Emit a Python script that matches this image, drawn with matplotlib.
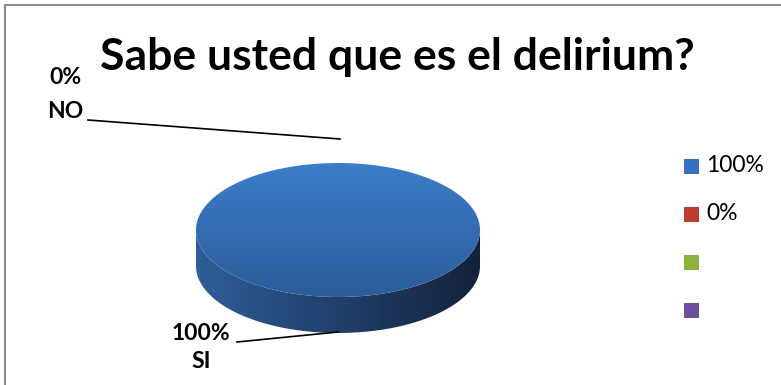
import numpy as np
import matplotlib.pyplot as plt
from matplotlib.patches import Polygon, Rectangle
from matplotlib.lines import Line2D

# data
categories = ['SI', 'NO']
values = [100, 0]
legend_labels = ['100%', '0%', '', '']
legend_colors = ['#3572c0', '#c0392f', '#8cb43c', '#6f4f9c']
title = 'Sabe usted que es el delirium?'

W, H = 781, 385
fig = plt.figure(figsize=(W / 100, H / 100), dpi=100)
ax = fig.add_axes([0, 0, 1, 1])
ax.set_xlim(0, W)
ax.set_ylim(H, 0)
ax.axis('off')

# chart border (only top and left visible in crop)
ax.add_line(Line2D([5, 5], [5, H + 5], color='#8c8c8c', lw=1.5))
ax.add_line(Line2D([5, W + 5], [5, 5], color='#8c8c8c', lw=1.5))

ax.text(397, 57, title, ha='center', va='center', fontsize=32,
        fontweight='bold', family='Lato')

# pie geometry (pixel units)
cx, cy, rx, ry, depth = 338, 230, 142, 67, 36
total = sum(values)
shares = [v / total for v in values]


def ell(t, dy=0):
    return cx + rx * np.cos(t), cy + dy + ry * np.sin(t)


def grad_fill(poly, c0, c1, horizontal, extent):
    cmap = plt.matplotlib.colors.LinearSegmentedColormap.from_list('g', [c0, c1])
    g = np.linspace(0, 1, 256)
    img = g[None, :] if horizontal else g[:, None]
    im = ax.imshow(img, cmap=cmap, extent=extent, aspect='auto', zorder=2)
    ax.add_patch(poly)
    im.set_clip_path(poly)


# side wall of the pie (front half, visible part)
t = np.linspace(0, np.pi, 200)
x1, y1 = ell(t)
x2, y2 = ell(t[::-1], depth)
side = Polygon(np.column_stack([np.r_[x1, x2], np.r_[y1, y2]]),
               closed=True, fc='none', ec='none')
grad_fill(side, '#2f5d9a', '#13223b', True,
          (cx - rx, cx + rx, cy + ry + depth, cy))

# top faces, one wedge per category
start = -np.pi / 2
for share in shares:
    if share <= 0:
        continue
    ang = 2 * np.pi * share
    tt = np.linspace(start, start + ang, 400)
    xs, ys = ell(tt)
    if share < 1:
        xs, ys = np.r_[cx, xs], np.r_[cy, ys]
    top = Polygon(np.column_stack([xs, ys]), closed=True, fc='none', ec='none')
    grad_fill(top, '#3b7dca', '#2c5c9a', False,
              (cx - rx, cx + rx, cy + ry, cy - ry))
    start += ang

# data labels with leader lines
lbl_kw = dict(fontsize=16.5, fontweight='bold', family='Lato', ha='center',
              va='center')
for cat, v in zip(categories, values):
    if cat == 'NO':
        ax.text(65, 78, f'{v:.0f}%', **lbl_kw)
        ax.text(65, 112, cat, **lbl_kw)
        ax.plot([88, 340], [120, 139], color='black', lw=1.2)
    else:
        ax.text(201, 333, f'{v:.0f}%', **lbl_kw)
        ax.text(201, 362, cat, **lbl_kw)
        ax.plot([237, 338], [342, 332], color='black', lw=1.2)

# legend
for i, (lab, col) in enumerate(zip(legend_labels, legend_colors)):
    y = 166 + 48 * i
    ax.add_patch(Rectangle((684, y - 7.5), 15, 15, fc=col, ec='none'))
    ax.text(706, y, lab, fontsize=16.5, family='Lato', va='center', ha='left')

fig.savefig('out.png', dpi=100)
